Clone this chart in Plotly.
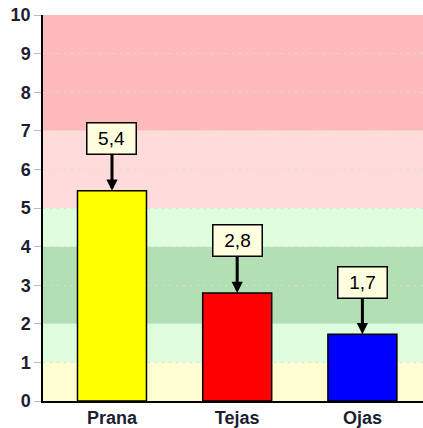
import plotly.graph_objects as go

categories = ["Prana", "Tejas", "Ojas"]
values = [5.45, 2.8, 1.73]
value_labels = ["5,4", "2,8", "1,7"]
bar_colors = ["#FFFF00", "#FF0000", "#0000FF"]

band_edges = [(0, 1), (1, 2), (2, 4), (4, 5), (5, 7), (7, 10)]
band_colors = ["#FFFFD2", "#DDFDDD", "#B3DFB5", "#DDFDDD", "#FFDBDB", "#FFBBBB"]
y_ticks = list(range(0, 11))

FONT = "Liberation Sans, Arial"

fig = go.Figure()
fig.add_trace(go.Bar(
    x=categories, y=values, width=0.551,
    marker=dict(color=bar_colors, line=dict(color="black", width=1.5)),
    hoverinfo="skip",
))

for (y0, y1), c in zip(band_edges, band_colors):
    fig.add_shape(type="rect", xref="paper", yref="y", x0=0, x1=1, y0=y0, y1=y1,
                  fillcolor=c, line=dict(width=0), layer="below")

for cat, v, lab in zip(categories, values, value_labels):
    fig.add_annotation(
        x=cat, y=v, text=lab, showarrow=True, ax=0, ay=-52,
        arrowhead=2, arrowsize=0.75, arrowwidth=3, arrowcolor="black", standoff=0,
        bgcolor="#FFFFE0", bordercolor="black", borderwidth=1.5, borderpad=2,
        width=44, height=26,
        font=dict(family=FONT, size=19, color="black"),
    )

fig.update_layout(
    width=423, height=428,
    margin=dict(l=43, r=0, t=15, b=27, autoexpand=False),
    paper_bgcolor="white", plot_bgcolor="white",
    showlegend=False,
)
fig.update_xaxes(
    range=[-0.551, 2.484],
    showline=True, linecolor="black", linewidth=1.5, showgrid=False,
    ticks="", tickfont=dict(family=FONT, size=18, color="#1E1E30", weight="bold"),
    fixedrange=True, automargin=False,
)
fig.update_yaxes(
    range=[0, 10], tickvals=y_ticks, showline=True, linecolor="black", linewidth=1.5,
    showgrid=True, gridcolor="#DDDDDD", griddash="2px,5px", gridwidth=1,
    ticks="outside", ticklen=7, tickcolor="#BBBBBB", zeroline=False,
    tickfont=dict(family=FONT, size=18, color="#1E1E30", weight="bold"),
    fixedrange=True, automargin=False,
)

fig.write_html("out.html", config={"displayModeBar": False},
               post_script="document.body.style.margin='0px';")
